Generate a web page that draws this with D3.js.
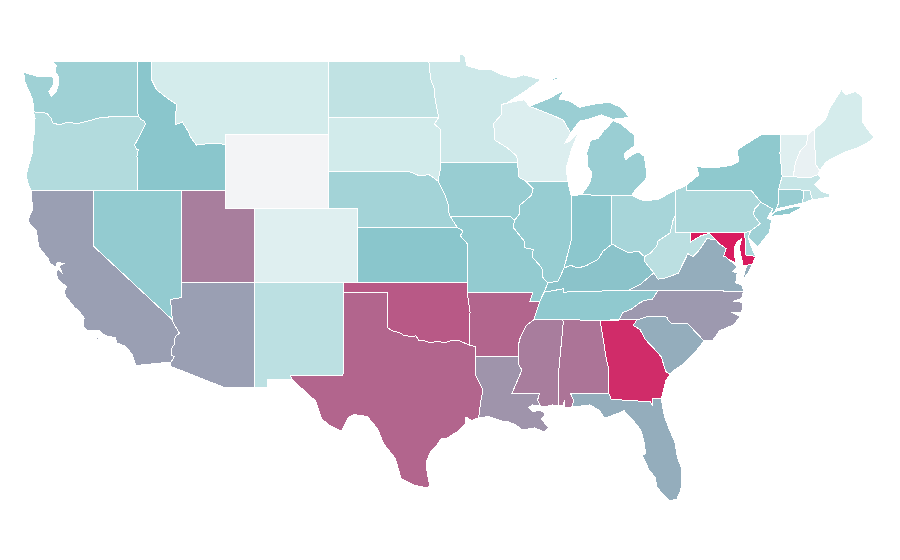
<!DOCTYPE html>
<html lang="en">
<head>
<meta charset="UTF-8">
<title>US states</title>
<script src="https://d3js.org/d3.v7.min.js"></script>
<style>
    body { margin: 0; background: #fff; }
    .state { stroke: #fff; stroke-width: 1px; shape-rendering: crispEdges; }
</style>
</head>
<body>
<svg id="map" width="900" height="560"></svg>
<script>
// values, same order as the outlines below
const stateNames = ["Washington","Oregon","California","Nevada","Idaho","Montana","Utah","Arizona","Colorado","New Mexico",
    "North Dakota","South Dakota","Nebraska","Kansas","Oklahoma","Texas","Minnesota","Iowa","Missouri","Arkansas",
    "Louisiana","Mississippi","Alabama","Georgia","Florida","South Carolina","North Carolina","Tennessee","Kentucky","Virginia",
    "West Virginia","Ohio","Indiana","Illinois","Wisconsin","Michigan","Pennsylvania","New York","New Jersey","Delaware",
    "Maryland","Connecticut","Rhode Island","Massachusetts","Vermont","New Hampshire","Maine","Wyoming"];
const stateValues = [24,18.6,42,27.4,30,8.9,52.3,42,5.7,15.7,
    14.6,9.4,22.9,30,66.5,60,10.9,26,27.4,60,
    45.5,52.6,55.4,91,37.7,37.7,44,28.3,31,37.7,
    16,21.7,29.4,26.3,6.6,25.4,20,28.6,23.7,21,
    100,26,17.7,13,5.7,2.9,8.6,0];
const colorStops = [0,8.9,30,60,100];
const colorRange = ["#f3f4f6","#d4ecec","#8ac6cc","#b2658d","#d91b5f"];

// state outlines in lon,lat, one string per ring
const stateOutlines = [
 ["-117.03,49 -122.76,49 -122.5,48.75 -122.6,48.4 -122.4,48.25 -122.35,47.9 -122.4,47.6 -122.55,47.3 -122.85,47.1 -123.0,47.35 -122.65,47.8 -122.75,48.15 -123.15,48.15 -123.7,48.15 -124.72,48.38 -124.65,47.9 -124.35,47.35 -124.1,46.9 -124.05,46.25 -123.4,46.2 -123.15,46.17 -122.85,45.9 -122.75,45.65 -122.3,45.55 -121.7,45.7 -121.15,45.6 -120.5,45.72 -119.6,45.92 -119,45.93 -118.98,46 -116.92,46 -117.03,46.4"],
 ["-124.05,46.25 -123.95,45.9 -123.97,45.2 -124.1,44.6 -124.15,44 -124.4,43.3 -124.55,42.85 -124.4,42.3 -124.2,42 -120,42 -117.03,42 -117.03,43.83 -116.95,44.2 -117.05,44.23 -117.2,44.45 -116.85,44.95 -116.7,45.2 -116.46,45.6 -116.55,45.75 -116.78,45.85 -116.92,46 -118.98,46 -119,45.93 -119.6,45.92 -120.5,45.72 -121.15,45.6 -121.7,45.7 -122.3,45.55 -122.75,45.65 -122.85,45.9 -123.15,46.17 -123.4,46.2"],
 ["-124.2,42 -120,42 -120,39 -114.63,35 -114.57,34.85 -114.15,34.27 -114.43,34.1 -114.52,33.65 -114.72,33.4 -114.7,33.08 -114.5,33 -114.72,32.72 -117.12,32.53 -117.25,32.85 -117.35,33.15 -117.9,33.6 -118.4,33.75 -118.5,34.03 -119.2,34.15 -119.6,34.42 -120.45,34.45 -120.65,34.6 -120.62,35.1 -120.9,35.4 -121.3,35.7 -121.9,36.3 -121.95,36.6 -121.8,36.8 -122.05,36.95 -122.4,37.2 -122.5,37.5 -122.42,37.8 -122.1,37.5 -122.3,37.9 -122,38.05 -122.45,38.1 -122.5,37.85 -122.95,38.05 -123.05,38.3 -123.7,38.95 -123.85,39.8 -124.35,40.25 -124.4,40.45 -124.1,41 -124.2,41.7",
  "-119.9,34 -119.55,34.05 -119.55,33.97 -119.9,33.95",
  "-118.6,33.48 -118.35,33.4 -118.4,33.33"],
 ["-120,42 -114.04,42 -114.04,37 -114.04,36.2 -114.4,36.15 -114.75,36.1 -114.7,35.6 -114.63,35 -120,39"],
 ["-117.03,49 -116.05,49 -116.05,48 -115.7,47.45 -115,47 -114.35,46.65 -114.45,45.55 -113.95,45.7 -113.45,45.05 -113.45,44.95 -113,44.45 -112,44.55 -111.5,44.55 -111.05,44.48 -111.05,42 -114.04,42 -117.03,42 -117.03,43.83 -116.95,44.2 -117.05,44.23 -117.2,44.45 -116.85,44.95 -116.7,45.2 -116.46,45.6 -116.55,45.75 -116.78,45.85 -116.92,46 -117.03,46.4"],
 ["-116.05,49 -104.05,49 -104.05,45.94 -104.05,45 -111.05,45 -111.05,44.48 -111.5,44.55 -112,44.55 -113,44.45 -113.45,44.95 -113.45,45.05 -113.95,45.7 -114.45,45.55 -114.35,46.65 -115,47 -115.7,47.45 -116.05,48"],
 ["-114.04,42 -111.05,42 -111.05,41 -109.05,41 -109.05,37 -114.04,37"],
 ["-114.04,37 -109.05,37 -109.05,31.33 -111.07,31.33 -114.8,32.5 -114.72,32.72 -114.5,33 -114.7,33.08 -114.72,33.4 -114.52,33.65 -114.43,34.1 -114.15,34.27 -114.57,34.85 -114.63,35 -114.7,35.6 -114.75,36.1 -114.4,36.15 -114.04,36.2"],
 ["-109.05,41 -102.05,41 -102.05,37 -109.05,37"],
 ["-109.05,37 -103,37 -103,36.5 -103.05,32 -106.62,32 -106.53,31.78 -108.2,31.78 -108.2,31.33 -109.05,31.33"],
 ["-104.05,49 -97.23,49 -97.1,48 -96.85,47.5 -96.8,46.9 -96.56,45.94 -104.05,45.94"],
 ["-104.05,45.94 -96.56,45.94 -96.85,45.6 -96.45,45.3 -96.45,43.5 -96.45,43.1 -96.6,42.5 -97.2,42.85 -97.9,42.8 -98.5,43 -104.05,43"],
 ["-104.05,43 -98.5,43 -97.9,42.8 -97.2,42.85 -96.6,42.5 -96.1,41.7 -95.9,41.2 -95.85,40.7 -95.3,40 -102.05,40 -102.05,41 -104.05,41"],
 ["-102.05,40 -95.3,40 -94.9,39.8 -95.1,39.55 -94.6,39.1 -94.62,37 -102.05,37"],
 ["-103,37 -94.62,37 -94.62,36.5 -94.43,35.4 -94.48,33.63 -95.25,33.9 -95.6,33.9 -96.2,33.75 -96.6,33.85 -97.15,33.75 -97.45,33.85 -97.9,33.88 -98.1,34.13 -98.4,34.1 -98.9,34.15 -99.2,34.3 -99.7,34.4 -100,34.56 -100,36.5 -103,36.5"],
 ["-103,36.5 -100,36.5 -100,34.56 -99.7,34.4 -99.2,34.3 -98.9,34.15 -98.4,34.1 -98.1,34.13 -97.9,33.88 -97.45,33.85 -97.15,33.75 -96.6,33.85 -96.2,33.75 -95.6,33.9 -95.25,33.9 -94.48,33.63 -94.04,33.55 -94.04,33.02 -94.04,31.99 -93.8,31.6 -93.55,31.2 -93.7,30.6 -93.75,30.3 -93.85,29.7 -94.35,29.55 -94.7,29.75 -94.75,29.35 -95.2,29 -96,28.6 -96.35,28.6 -96.8,28.1 -97.1,27.9 -97.4,27.3 -97.35,26.8 -97.15,25.96 -97.6,25.95 -98.2,26.05 -99.1,26.4 -99.5,27.5 -100.3,28.3 -100.7,29.1 -101.4,29.77 -102.3,29.88 -102.7,29.7 -103.15,28.98 -104,29.3 -104.5,29.65 -104.9,30.6 -106,31.4 -106.53,31.78 -106.62,32 -103.05,32"],
 ["-97.23,49 -95.15,49 -95.15,49.38 -94.8,49.3 -94.65,48.75 -93.8,48.55 -93,48.55 -92.4,48.3 -91.5,48.08 -90.8,48.25 -89.6,48 -90.8,47.3 -92,46.7 -92.3,46.65 -92.3,46.1 -92.85,45.6 -92.75,45.1 -92.8,44.75 -91.9,44.3 -91.25,43.85 -91.22,43.5 -96.45,43.5 -96.45,45.3 -96.85,45.6 -96.56,45.94 -96.8,46.9 -96.85,47.5 -97.1,48"],
 ["-96.45,43.5 -91.22,43.5 -91.1,42.7 -90.65,42.5 -90.15,42.1 -90.25,41.75 -91.05,41.2 -91.1,40.7 -91.42,40.38 -91.7,40.6 -95.77,40.58 -95.85,40.7 -95.9,41.2 -96.1,41.7 -96.6,42.5 -96.45,43.1"],
 ["-95.77,40.58 -91.7,40.6 -91.42,40.38 -91.5,40 -90.75,39.25 -90.7,38.9 -90.15,38.8 -90.2,38.4 -89.55,37.8 -89.5,37.3 -89.15,37 -89.4,36.5 -89.7,36 -90.37,36 -90.15,36.5 -94.62,36.5 -94.62,37 -94.6,39.1 -95.1,39.55 -94.9,39.8 -95.3,40 -95.85,40.7"],
 ["-94.62,36.5 -90.15,36.5 -90.37,36 -89.7,36 -90.1,35 -90.6,34.7 -91.1,33.9 -91.15,33 -94.04,33.02 -94.04,33.55 -94.48,33.63 -94.43,35.4"],
 ["-94.04,33.02 -91.15,33 -91.1,32.5 -90.9,32.3 -91.6,31 -89.73,31 -89.85,30.65 -89.65,30.35 -90.2,30.4 -90.45,30.25 -90.2,30.03 -89.75,30.1 -89.4,30 -89.4,29.8 -89.6,29.65 -89.1,29.15 -89.4,28.95 -90.05,29.15 -90.9,29.05 -91.3,29.3 -91.85,29.5 -92.3,29.53 -93.2,29.77 -93.85,29.7 -93.75,30.3 -93.7,30.6 -93.55,31.2 -93.8,31.6 -94.04,31.99"],
 ["-90.1,35 -88.2,35 -88.1,34.9 -88.45,31.9 -88.4,30.35 -88.85,30.4 -89.35,30.3 -89.65,30.35 -89.85,30.65 -89.73,31 -91.6,31 -90.9,32.3 -91.1,32.5 -91.15,33 -91.1,33.9 -90.6,34.7"],
 ["-88.2,35 -85.6,34.98 -85.18,32.87 -85,32.3 -85.05,31.55 -85,31 -87.6,31 -87.4,30.65 -87.52,30.28 -88,30.25 -88,30.65 -88.13,30.35 -88.4,30.35 -88.45,31.9 -88.1,34.9"],
 ["-85.6,34.98 -83.1,35 -83.35,34.7 -82.9,34.48 -82.55,33.95 -81.9,33.4 -81.45,33 -81.15,32.2 -80.85,32.05 -81.15,31.7 -81.3,31.2 -81.45,30.72 -82.05,30.75 -82.05,30.37 -82.2,30.57 -84.85,30.7 -85,31 -85.05,31.55 -85,32.3 -85.18,32.87"],
 ["-87.6,31 -85,31 -84.85,30.7 -82.2,30.57 -82.05,30.37 -82.05,30.75 -81.45,30.72 -81.25,29.8 -80.9,29.05 -80.55,28.45 -80.35,27.55 -80.05,26.9 -80.12,25.8 -80.4,25.3 -80.9,25.2 -81.15,25.4 -81.75,25.95 -81.85,26.45 -82.3,26.9 -82.75,27.7 -82.5,27.75 -82.65,28.5 -82.85,29.05 -83.4,29.6 -84,30.1 -84.35,29.95 -85.3,29.68 -85.65,30.1 -86.3,30.4 -87.52,30.28 -87.4,30.65"],
 ["-83.1,35 -82.3,35.2 -81.05,35.15 -81.05,35.05 -80.8,34.82 -79.67,34.8 -78.55,33.86 -79.2,33.2 -79.95,32.6 -80.65,32.25 -80.85,32.05 -81.15,32.2 -81.45,33 -81.9,33.4 -82.55,33.95 -82.9,34.48 -83.35,34.7"],
 ["-84.32,35 -84.05,35.4 -83.5,35.57 -82.95,35.9 -82.6,36.05 -82.05,36.12 -81.68,36.59 -75.87,36.55 -76,36.15 -76.55,36 -75.9,35.95 -76,35.4 -76.7,35.4 -76.1,35.2 -76.5,34.75 -77.5,34.4 -77.95,33.9 -78.55,33.86 -79.67,34.8 -80.8,34.82 -81.05,35.05 -81.05,35.15 -82.3,35.2 -83.1,35"],
 ["-90.1,35 -88.2,35 -85.6,34.98 -84.32,35 -84.05,35.4 -83.5,35.57 -82.95,35.9 -82.6,36.05 -82.05,36.12 -81.68,36.59 -83.68,36.6 -88.07,36.5 -88.07,36.68 -89.4,36.5 -89.7,36"],
 ["-89.4,36.5 -88.07,36.68 -88.07,36.5 -83.68,36.6 -82.9,36.9 -81.96,37.54 -82.6,38.17 -82.6,38.42 -83,38.72 -83.65,38.63 -84.25,38.85 -84.8,39.1 -85.4,38.72 -85.75,38.27 -86.5,37.95 -87.1,37.8 -87.6,37.95 -88.05,37.8 -88.45,37.1 -89.15,37"],
 ["-83.68,36.6 -81.68,36.59 -75.87,36.55 -76,36.9 -76.4,37 -76.3,37.55 -76.6,37.6 -76.3,37.9 -76.95,38.3 -77.05,38.4 -77.25,38.4 -77.05,38.85 -77.5,39.1 -77.75,39.32 -78.35,39.4 -78.9,38.75 -79.3,38.42 -79.65,38.58 -80.3,37.52 -81.22,37.25 -81.68,37.2 -81.96,37.54 -82.9,36.9",
  "-75.95,37.15 -75.65,37.95 -75.25,38.03 -75.6,37.5"],
 ["-82.6,38.17 -81.96,37.54 -81.68,37.2 -81.22,37.25 -80.3,37.52 -79.65,38.58 -79.3,38.42 -78.9,38.75 -78.35,39.4 -77.75,39.32 -78.2,39.68 -78.75,39.55 -79.48,39.2 -79.48,39.72 -80.52,39.72 -80.52,40.64 -80.65,40.4 -80.85,39.7 -81.7,39.25 -81.75,39 -82.2,38.6 -82.6,38.42"],
 ["-84.8,41.73 -83.45,41.73 -82.7,41.45 -81.7,41.5 -80.52,42 -80.52,40.64 -80.65,40.4 -80.85,39.7 -81.7,39.25 -81.75,39 -82.2,38.6 -82.6,38.42 -83,38.72 -83.65,38.63 -84.25,38.85 -84.8,39.1"],
 ["-87.52,41.7 -87.2,41.75 -86.8,41.76 -84.8,41.73 -84.8,39.1 -85.4,38.72 -85.75,38.27 -86.5,37.95 -87.1,37.8 -87.6,37.95 -88.05,37.8 -87.55,39.35"],
 ["-90.65,42.5 -87.8,42.5 -87.6,41.8 -87.52,41.7 -87.55,39.35 -88.05,37.8 -88.45,37.1 -89.15,37 -89.5,37.3 -89.55,37.8 -90.2,38.4 -90.15,38.8 -90.7,38.9 -90.75,39.25 -91.5,40 -91.42,40.38 -91.1,40.7 -91.05,41.2 -90.25,41.75 -90.15,42.1"],
 ["-92,46.7 -92.3,46.65 -92.3,46.1 -92.85,45.6 -92.75,45.1 -92.8,44.75 -91.9,44.3 -91.25,43.85 -91.22,43.5 -91.1,42.7 -90.65,42.5 -87.8,42.5 -87.9,43.2 -87.7,43.8 -87.5,44.3 -87.05,45.2 -87.6,44.7 -88,44.55 -87.6,45.1 -88.1,45.8 -88.65,46 -89.1,46.15 -90.4,46.55 -90.75,46.9 -91.2,46.85"],
 ["-90.4,46.55 -89.1,46.15 -88.65,46 -88.1,45.8 -87.6,45.1 -87,45.75 -86.4,45.85 -85.5,46.08 -84.75,45.85 -83.6,45.95 -84.2,46.5 -85,46.77 -86,46.67 -87,46.5 -87.7,46.85 -88.4,46.95 -88,47.45 -89,47",
  "-86.8,41.76 -84.8,41.73 -83.45,41.73 -83.15,42.1 -82.5,42.6 -82.45,43 -82.6,43.85 -83,44.07 -83.4,43.95 -83.9,43.65 -83.95,44 -83.3,44.4 -83.3,45 -84.2,45.6 -84.75,45.78 -85.1,45.4 -85.35,45.25 -85.55,45 -85.75,44.8 -86.1,44.75 -86.25,44.7 -86.5,44.05 -86.45,43.3 -86.15,42.95 -86.3,42.4 -86.75,41.9",
  "-89.2,47.85 -88.5,48.15 -88.45,48.05"],
 ["-80.52,42 -79.76,42.27 -79.76,42 -75.35,42 -74.7,41.36 -75.13,40.98 -75.2,40.7 -74.75,40.2 -75.4,39.8 -75.79,39.72 -79.48,39.72 -80.52,39.72 -80.52,40.64"],
 ["-79.76,42 -75.35,42 -74.7,41.36 -73.9,41 -74,40.7 -73.75,40.85 -73.65,41 -73.5,41.3 -73.5,42.05 -73.25,42.75 -73.35,43.6 -73.4,44 -73.35,45 -74.7,45 -76.3,44.2 -76.2,43.55 -76.7,43.35 -77.6,43.25 -79.05,43.27 -78.9,42.85 -79.76,42.27",
  "-74,40.6 -73.75,40.85 -72.3,41.15 -71.9,41.07 -72.8,40.7"],
 ["-74.7,41.36 -73.9,41 -74.25,40.5 -73.98,40.4 -74.1,39.75 -74.9,38.95 -75.55,39.45 -75.4,39.8 -74.75,40.2 -75.2,40.7 -75.13,40.98"],
 ["-75.79,39.72 -75.4,39.8 -75.55,39.45 -75.4,39.05 -75.05,38.45 -75.7,38.46"],
 ["-79.48,39.72 -75.79,39.72 -75.7,38.46 -75.05,38.45 -75.25,38.03 -75.65,37.95 -75.9,37.95 -76,38.3 -76.15,38.9 -76,39.4 -76.3,39.2 -76.5,38.9 -76.45,38.35 -76.35,38.05 -76.95,38.3 -77.05,38.4 -77.25,38.4 -77.05,38.85 -77.5,39.1 -77.75,39.32 -78.2,39.68 -78.75,39.55 -79.48,39.2"],
 ["-73.5,42.05 -71.8,42.02 -71.85,41.32 -73.65,41 -73.5,41.3"],
 ["-71.8,42.02 -71.38,42.02 -71.2,41.5 -71.85,41.32"],
 ["-73.5,42.05 -73.25,42.75 -72.45,42.73 -71.3,42.7 -70.8,42.87 -70.6,42.65 -71.05,42.3 -70.6,41.95 -70.05,41.8 -70,41.65 -70.65,41.55 -71.2,41.5 -71.38,42.02 -71.8,42.02"],
 ["-73.35,45 -71.5,45.01 -71.6,44.5 -72.05,44.1 -72.35,43.5 -72.45,43 -72.45,42.73 -73.25,42.75 -73.35,43.6 -73.4,44"],
 ["-71.5,45.01 -71.08,45.3 -70.98,43.4 -70.7,43.07 -70.8,42.87 -71.3,42.7 -72.45,42.73 -72.45,43 -72.35,43.5 -72.05,44.1 -71.6,44.5"],
 ["-71.08,45.3 -70.4,45.75 -70.25,45.95 -70.05,46.4 -69.23,47.45 -68.9,47.18 -68.3,47.35 -67.8,47.07 -67.8,45.7 -67.45,45.3 -67,44.85 -67.6,44.5 -68.3,44.25 -69.05,44.05 -69.8,43.75 -70.25,43.55 -70.7,43.07 -70.98,43.4"],
 ["-111.05,45 -104.05,45 -104.05,41 -111.05,41"]
];

const svg = d3.select("#map");

// the map is a plain lon/lat grid
const xScale = d3.scaleLinear().domain([-117.03, -66.95]).range([137, 875]);
const yScale = d3.scaleLinear().domain([49, 25.85]).range([61, 489]);
const projection = d3.geoTransform({
    point: function (lon, lat) { this.stream.point(xScale(lon), yScale(lat)); }
});
const path = d3.geoPath().projection(projection);

const color = d3.scaleLinear().domain(colorStops).range(colorRange);

const features = stateNames.map(function (name, i) {
    const polys = stateOutlines[i].map(function (ring) {
        const pts = ring.trim().split(" ").map(p => p.split(",").map(Number));
        pts.push(pts[0]);
        return [pts];
    });
    return {
        type: "Feature",
        properties: { name: name, value: stateValues[i] },
        geometry: { type: "MultiPolygon", coordinates: polys }
    };
});

svg.selectAll("path.state")
    .data(features)
    .join("path")
    .attr("class", "state")
    .attr("d", path)
    .attr("fill", d => color(d.properties.value));
</script>
</body>
</html>
